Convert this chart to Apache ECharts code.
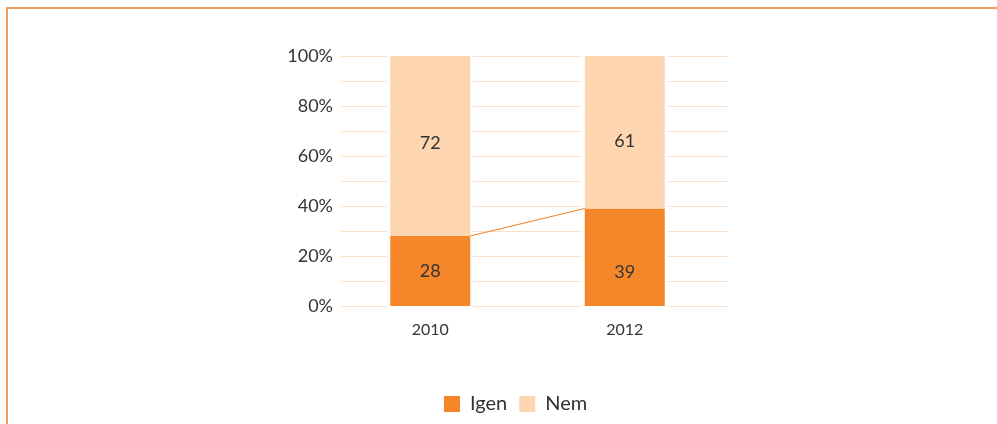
<!DOCTYPE html>
<html>
<head>
<meta charset="utf-8">
<script src="https://cdn.jsdelivr.net/npm/echarts@6/dist/echarts.min.js"></script>
<style>
  html, body { margin: 0; padding: 0; background: #fff; }
  #chart { width: 997px; height: 424px; }
</style>
</head>
<body>
<div id="chart"></div>
<script>
// adatok
var years = ['2010', '2012'];
var igen = [28, 39];
var nem = [72, 61];
var yTicks = [0, 20, 40, 60, 80, 100];

(function(){
    var myChart = echarts.init(document.getElementById('chart'));
    var cOrange = '#f5862a';
    var cPeach = '#fdd5b1';
    var fontFam = 'Lato, "Open Sans", sans-serif';

    // címkék függőleges eltolása (az eredeti ábra szerint)
    var igenOffset = [0, 15];
    var nemOffset = [-3, 9];

    function withOffsets(values, offsets) {
        return values.map(function (v, i) {
            return { value: v, label: { offset: [0, offsets[i]] } };
        });
    }

    var option = {
        animation: false,
        // keret (felső és bal vonal)
        graphic: [{
            type: 'polyline',
            shape: { points: [[7, 424], [7, 8], [997, 8]] },
            style: { stroke: '#f29d5a', lineWidth: 2, fill: null }
        }],
        legend: {
            bottom: 5,
            left: 439,
            itemWidth: 16,
            itemHeight: 16,
            itemGap: 12,
            icon: 'rect',
            textStyle: { fontSize: 20, color: '#333', fontFamily: fontFam, padding: [0, 0, 0, 5] },
            data: ['Igen', 'Nem']
        },
        grid: [
            // oszlopok
            { left: 333, right: 275, top: 56, bottom: 118 },
            // rácsvonalak
            { left: 341, right: 269, top: 56, bottom: 118 }
        ],
        xAxis: [
            {
                type: 'category',
                gridIndex: 0,
                data: years,
                axisLine: { show: false },
                axisTick: { show: false },
                axisLabel: { color: '#333', fontSize: 16, margin: 16, fontFamily: fontFam }
            },
            {
                type: 'category',
                gridIndex: 1,
                data: years,
                show: false
            }
        ],
        yAxis: [
            {
                type: 'value',
                gridIndex: 0,
                min: 0, max: 100, interval: 20,
                axisLine: { show: false },
                axisTick: { show: false },
                splitLine: { show: false },
                axisLabel: {
                    color: '#333', fontSize: 18, margin: 0, fontFamily: fontFam,
                    formatter: function (v) { return yTicks.indexOf(v) >= 0 ? v + '%' : ''; }
                }
            },
            {
                type: 'value',
                gridIndex: 1,
                min: 0, max: 100, interval: 10,
                axisLine: { show: false },
                axisTick: { show: false },
                axisLabel: { show: false },
                splitLine: { lineStyle: { color: '#fde0c8', width: 1 } }
            }
        ],
        series: [
            {
                name: 'Igen',
                type: 'bar',
                stack: 'total',
                barWidth: 80,
                data: withOffsets(igen, igenOffset),
                z: 3,
                itemStyle: { color: cOrange },
                showBackground: true,
                backgroundStyle: { color: '#fff', borderColor: '#fff', borderWidth: 6 },
                label: {
                    show: true, position: 'inside', color: '#333',
                    fontSize: 18, fontFamily: fontFam
                }
            },
            {
                name: 'Nem',
                type: 'bar',
                stack: 'total',
                barWidth: 80,
                data: withOffsets(nem, nemOffset),
                z: 3,
                itemStyle: { color: cPeach },
                label: {
                    show: true, position: 'inside', color: '#333',
                    fontSize: 18, fontFamily: fontFam
                }
            },
            {
                // összekötő vonal az Igen oszlopok teteje között
                type: 'custom',
                z: 4,
                data: igen,
                renderItem: function (params, api) {
                    var i = params.dataIndex;
                    if (i >= igen.length - 1) return null;
                    var a = api.coord([i, igen[i]]);
                    var b = api.coord([i + 1, igen[i + 1]]);
                    return {
                        type: 'line',
                        shape: { x1: a[0] + 40, y1: a[1], x2: b[0] - 40, y2: b[1] },
                        style: { stroke: cOrange, lineWidth: 1.2 }
                    };
                }
            }
        ]
    };
    myChart.setOption(option);
})();
</script>
</body>
</html>
